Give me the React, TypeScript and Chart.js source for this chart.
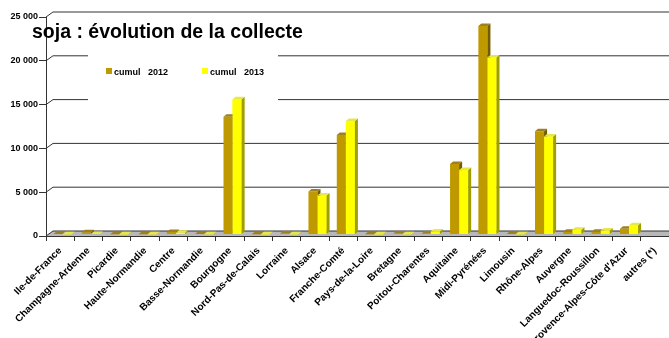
import React, { useEffect, useRef } from "react";
import { Chart, registerables } from "chart.js";

Chart.register(...registerables);

const categories = [
  "Ile-de-France",
  "Champagne-Ardenne",
  "Picardie",
  "Haute-Normandie",
  "Centre",
  "Basse-Normandie",
  "Bourgogne",
  "Nord-Pas-de-Calais",
  "Lorraine",
  "Alsace",
  "Franche-Comté",
  "Pays-de-la-Loire",
  "Bretagne",
  "Poitou-Charentes",
  "Aquitaine",
  "Midi-Pyrénées",
  "Limousin",
  "Rhône-Alpes",
  "Auvergne",
  "Languedoc-Roussillon",
  "Provence-Alpes-Côte d'Azur",
  "autres (*)",
];

const cumul2012 = [50, 250, 30, 40, 280, 60, 13450, 30, 100, 4900, 11350, 30, 100, 100, 8050, 23800, 50, 11800, 300, 300, 650, 0];
const cumul2013 = [30, 60, 20, 30, 200, 40, 15450, 20, 30, 4450, 12950, 20, 30, 350, 7350, 20200, 30, 11200, 550, 450, 1050, 0];

const seriesLabels = ["cumul   2012", "cumul   2013"];
const titleText = "soja : évolution de la collecte";
const yTicks = [0, 5000, 10000, 15000, 20000, 25000];

const FONT = "'Liberation Sans', Arial, sans-serif";
const COLORS = [
  { front: "#BF9900", side: "#735C00", top: "#9E8020" },
  { front: "#FFFF00", side: "#9E9E00", top: "#E6E64D" },
];
const DEPTH = { dx: 7, dy: -5 };
const BAR_DEPTH = { dx: 3, dy: -2.5 };
const BAR_SHIFT = { x: 2.5, y: -1.5 };
const LEGEND_BOX = { x1: 88, x2: 278, y1: 50, y2: 106 };

const fmt = (v: number) => String(v).replace(/\B(?=(\d{3})+(?!\d))/g, " ");

function drawFaces(ctx: any, el: any, c: any) {
  const { x, y, base, width } = el.getProps(["x", "y", "base", "width"], true);
  if (Math.abs(base - y) < 0.01) return;
  const l = x - width / 2;
  const r = x + width / 2;
  ctx.beginPath();
  ctx.moveTo(r, y);
  ctx.lineTo(r + BAR_DEPTH.dx, y + BAR_DEPTH.dy);
  ctx.lineTo(r + BAR_DEPTH.dx, base + BAR_DEPTH.dy);
  ctx.lineTo(r, base);
  ctx.closePath();
  ctx.fillStyle = c.side;
  ctx.fill();
  ctx.beginPath();
  ctx.moveTo(l, y);
  ctx.lineTo(l + BAR_DEPTH.dx, y + BAR_DEPTH.dy);
  ctx.lineTo(r + BAR_DEPTH.dx, y + BAR_DEPTH.dy);
  ctx.lineTo(r, y);
  ctx.closePath();
  ctx.fillStyle = c.top;
  ctx.fill();
}

const wallPlugin = {
  id: "wall3d",
  beforeDatasetsDraw(chart: any) {
    const { ctx, chartArea } = chart;
    const ys = chart.scales.y;
    const { left, right, bottom } = chartArea;
    ctx.save();
    ctx.beginPath();
    ctx.moveTo(left, bottom);
    ctx.lineTo(right, bottom);
    ctx.lineTo(right, bottom + DEPTH.dy);
    ctx.lineTo(left + DEPTH.dx, bottom + DEPTH.dy);
    ctx.closePath();
    ctx.fillStyle = "#B8B8B8";
    ctx.fill();
    ctx.strokeStyle = "#333333";
    ctx.lineWidth = 1;
    yTicks.forEach((v) => {
      const y = ys.getPixelForValue(v);
      const yb = y + DEPTH.dy;
      ctx.beginPath();
      ctx.moveTo(left, y);
      ctx.lineTo(left + DEPTH.dx, yb);
      if (yb > LEGEND_BOX.y1 && yb < LEGEND_BOX.y2) {
        ctx.lineTo(LEGEND_BOX.x1, yb);
        ctx.moveTo(LEGEND_BOX.x2, yb);
      }
      ctx.lineTo(right, yb);
      ctx.stroke();
    });
    ctx.restore();
    ctx.save();
    ctx.translate(BAR_SHIFT.x, BAR_SHIFT.y);
  },
  afterDatasetsDraw(chart: any) {
    const { ctx } = chart;
    const m0 = chart.getDatasetMeta(0);
    const m1 = chart.getDatasetMeta(1);
    m0.data.forEach((el: any, i: number) => {
      drawFaces(ctx, el, COLORS[0]);
      const el1 = m1.data[i];
      if (el1) {
        el1.draw(ctx, chart.chartArea);
        drawFaces(ctx, el1, COLORS[1]);
      }
    });
    ctx.restore();
  },
  afterDraw(chart: any) {
    const { ctx } = chart;
    ctx.save();
    ctx.fillStyle = "#000";
    ctx.textBaseline = "alphabetic";
    ctx.textAlign = "left";
    ctx.font = `bold 19.5px ${FONT}`;
    ctx.fillText(titleText, 32, 38);
    ctx.font = `bold 9px ${FONT}`;
    const legendX = [106, 202];
    seriesLabels.forEach((s, i) => {
      ctx.fillStyle = COLORS[i].front;
      ctx.fillRect(legendX[i], 68, 6, 6);
      ctx.fillStyle = "#000";
      ctx.fillText(s, legendX[i] + 8, 74.5);
    });
    ctx.restore();
  },
};

export default function App() {
  const ref = useRef<HTMLCanvasElement>(null);
  useEffect(() => {
    if (!ref.current) return;
    const chart = new Chart(ref.current, {
      type: "bar",
      data: {
        labels: categories,
        datasets: [
          {
            label: seriesLabels[0],
            data: cumul2012,
            backgroundColor: COLORS[0].front,
            categoryPercentage: 0.64,
            barPercentage: 1,
          },
          {
            label: seriesLabels[1],
            data: cumul2013,
            backgroundColor: COLORS[1].front,
            categoryPercentage: 0.64,
            barPercentage: 1,
          },
        ],
      },
      options: {
        responsive: false,
        animation: false,
        devicePixelRatio: 1,
        layout: { padding: { top: 17, left: 0, right: 0, bottom: 0 } },
        plugins: {
          legend: { display: false },
          title: { display: false },
          tooltip: { enabled: false },
        },
        scales: {
          x: {
            grid: {
              display: true,
              drawOnChartArea: false,
              drawTicks: true,
              tickLength: 5,
              color: "#333333",
              offset: true,
            },
            border: { display: true, color: "#333333" },
            ticks: {
              autoSkip: false,
              maxRotation: 45,
              minRotation: 45,
              padding: 4,
              color: "#000",
              font: { family: FONT, size: 10, weight: "bold" },
            },
            afterFit: (s: any) => {
              s.height = 102;
            },
          },
          y: {
            min: 0,
            max: 25000,
            grid: {
              display: true,
              drawOnChartArea: false,
              drawTicks: true,
              tickLength: 7,
              color: "#333333",
            },
            border: { display: true, color: "#333333" },
            ticks: {
              stepSize: 5000,
              padding: 1,
              color: "#000",
              font: { family: FONT, size: 9, weight: "bold" },
              callback: (v: any) => fmt(Number(v)),
            },
            afterFit: (s: any) => {
              s.width = 46;
            },
          },
        },
      },
      plugins: [wallPlugin],
    });
    return () => chart.destroy();
  }, []);
  return (
    <div style={{ position: "absolute", left: 0, top: 0, width: 669, height: 338, background: "#fff" }}>
      <canvas ref={ref} width={669} height={338} style={{ display: "block" }} />
    </div>
  );
}
